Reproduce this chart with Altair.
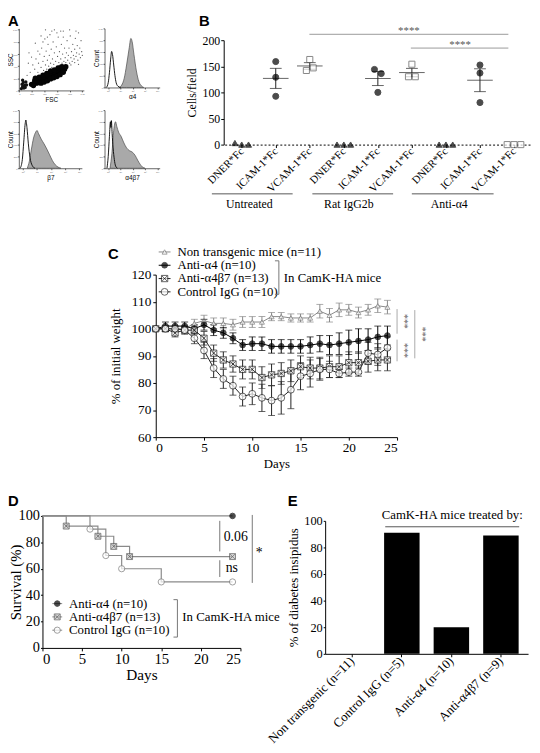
import json
import altair as alt
import pandas as pd

W, H = 532, 745
SERIF = "Liberation Serif"
SANS = "Liberation Sans"
CROSS_SQ = "M-1,-1H1V1H-1Z M-1,-1L1,1 M1,-1L-1,1"

# ---------------- data: panel A (flow cytometry) ----------------
core_fsc = [200, 240, 260, 280, 300, 320, 340, 360, 380, 400, 420, 440, 460, 480, 500, 520, 540, 560, 580, 600,
            620, 640, 660, 680, 700, 720, 740, 300, 350, 400, 450, 500, 550, 600, 650, 350, 400, 450, 500, 550,
            600, 650, 250, 700, 230, 260, 320, 380, 440, 500, 560, 620, 680]
core_ssc = [100, 110, 140, 120, 150, 130, 170, 150, 190, 170, 210, 190, 230, 210, 250, 230, 270, 250, 290, 270,
            310, 300, 330, 320, 360, 350, 390, 180, 200, 230, 260, 290, 310, 340, 370, 120, 140, 160, 190, 210,
            230, 260, 160, 300, 80, 200, 220, 250, 280, 320, 340, 370, 390]
debris_fsc = [40, 60, 80, 50, 90, 70, 100, 120, 60, 110]
debris_ssc = [30, 60, 40, 100, 80, 130, 50, 90, 170, 140]
sparse_fsc = [180, 220, 250, 270, 300, 310, 330, 350, 360, 380, 390, 400, 410, 420, 430, 440, 450, 460, 470, 480,
              490, 500, 510, 520, 530, 540, 550, 560, 570, 580, 590, 600, 610, 620, 630, 640, 650, 660, 670, 680,
              690, 700, 710, 720, 730, 740, 750, 760, 770, 780, 790, 800, 810, 820, 830, 840, 850, 860, 870, 880,
              890, 900, 910, 920, 930, 940, 950, 960, 970, 980, 990, 1000, 300, 260, 350, 420, 200, 150, 130, 160,
              600, 700, 520, 450, 380, 800, 900, 760, 820, 880, 940, 660, 560]
sparse_ssc = [300, 420, 350, 520, 300, 450, 600, 380, 700, 480, 330, 560, 850, 420, 650, 350, 500, 760, 400, 580,
              920, 450, 680, 380, 520, 800, 430, 620, 350, 480, 720, 400, 560, 880, 460, 640, 420, 520, 760, 450,
              600, 980, 480, 700, 540, 460, 620, 820, 500, 580, 700, 450, 900, 540, 640, 480, 760, 580, 520, 680,
              860, 560, 620, 740, 500, 950, 600, 700, 540, 820, 640, 580, 650, 780, 900, 1000, 550, 450, 250, 620,
              950, 880, 980, 880, 800, 1000, 980, 380, 420, 460, 430, 980, 1000]

a4_open_x = [-0.15, 0.0, 0.1, 0.2, 0.28, 0.35, 0.45, 0.55, 0.65, 0.8, 1.0]
a4_open_c = [0, 80, 250, 480, 610, 560, 380, 200, 80, 20, 0]
a4_fill_x = [0.9, 1.1, 1.3, 1.5, 1.7, 1.85, 1.95, 2.1, 2.3, 2.5, 2.7, 2.9]
a4_fill_c = [0, 40, 150, 380, 650, 830, 780, 560, 280, 100, 30, 0]
b7_open_x = [-0.2, -0.05, 0.05, 0.15, 0.2, 0.28, 0.38, 0.5, 0.65, 0.85]
b7_open_c = [0, 150, 450, 760, 830, 700, 420, 180, 50, 0]
b7_fill_x = [0.3, 0.45, 0.6, 0.75, 0.9, 1.0, 1.1, 1.3, 1.5, 1.7, 1.9, 2.1, 2.3, 2.5, 2.7]
b7_fill_c = [0, 120, 330, 520, 620, 650, 600, 500, 420, 330, 230, 130, 60, 20, 0]
ab_open_x = [-0.1, 0.0, 0.1, 0.18, 0.22, 0.26, 0.32, 0.4, 0.5, 0.6, 0.75]
ab_open_c = [0, 200, 550, 800, 700, 820, 600, 350, 150, 40, 0]
ab_fill_x = [0.15, 0.3, 0.45, 0.6, 0.7, 0.85, 1.05, 1.25, 1.5, 1.75, 1.95, 2.2, 2.4, 2.6, 2.8, 3.0]
ab_fill_c = [0, 250, 650, 800, 720, 620, 550, 450, 350, 300, 280, 220, 140, 70, 20, 0]

# ---------------- data: panel B ----------------
b_groups = ["Untreated", "Rat IgG2b", "Anti-\u03b14"]
b_ligands = ["DNER*Fc", "ICAM-1*Fc", "VCAM-1*Fc"]
b_vals = [[3, 0, 0], [159, 129, 92.5], [163, 142, 147],
          [0, 0, 0], [144, 136, 100], [154, 130, 130],
          [0, 0, 0], [152.5, 137, 80.5], [0, 0, 0]]
b_slot = [[-2, 0, 2], [0, 0, 0], [0, -1, 1],
          [-2, 0, 2], [-1, 1, 0], [0, -1, 1],
          [-2, 0, 2], [0, 0, 0], [-2, 0, 2]]

# ---------------- data: panel C ----------------
c_names = ["Non transgenic mice (n=11)", "Anti-\u03b14 (n=10)", "Anti-\u03b14\u03b27 (n=13)", "Control IgG (n=10)"]
c_days = list(range(25))
nt_mean = [100, 100, 100, 100, 102, 103, 102, 102, 101.5, 102.5, 102.5, 102.5, 104.5, 104.5, 104, 104, 104,
           106.5, 105, 107, 107, 106, 107, 108.5, 108]
nt_sem = [0.5, 1, 1, 1, 1.5, 2, 2, 2, 2, 2, 2, 2, 1.5, 1.5, 1.5, 1.5, 1.5, 2.5, 2.5, 2.5, 2, 2, 2, 2.5, 2.5]
a4_mean = [100, 101, 101, 101, 100, 101.5, 99.5, 98.5, 96.5, 94, 94.5, 94.5, 93.5, 93.5, 93.5, 93.5, 94, 94.5,
           94, 94.5, 95, 95.5, 96, 97, 97.5]
a4_sem = [0.5, 1.5, 1.5, 1.5, 1.5, 2, 2, 2, 2, 2, 2.5, 2.5, 2.5, 2.5, 2.5, 2.5, 3, 3, 3.5, 4, 4.5, 4.5, 4, 4, 3.5]
ab7_mean = [100, 100, 98.5, 99.5, 99.5, 96.5, 91, 88.5, 87, 85, 85, 82, 83, 83.5, 84.5, 86, 85.5, 85.5, 86, 86,
            87.5, 87.5, 88, 88.5, 88.5]
ab7_sem = [0.5, 1, 1.5, 1.5, 1.5, 2.5, 3, 3, 3, 3.5, 3.5, 4, 4, 4, 4, 4, 4, 4, 4, 4, 4, 4, 4, 4, 4]
igg_mean = [100, 100, 100, 99.5, 96.5, 92, 85.5, 81.5, 79, 75, 76, 74.5, 73.5, 74.5, 77.5, 82.5, 83.5, 85, 85,
            83.5, 84, 84, 91, 90.5, 93]
igg_sem = [0.5, 1, 1, 1, 2, 3, 3.5, 3.5, 3.5, 3.5, 4, 5, 5.5, 6, 7, 5, 5, 4, 3, 1.5, 1.5, 1.5, 4, 4, 4]

# ---------------- data: panel D ----------------
d_names = ["Anti-\u03b14 (n=10)", "Anti-\u03b14\u03b27 (n=13)", "Control IgG (n=10)"]
d_a4_days, d_a4_surv = [0, 24], [100, 100]
d_ab7_days, d_ab7_surv = [0, 3, 7, 9, 11, 24], [100, 92.3, 84.6, 76.9, 69.2, 69.2]
d_igg_days, d_igg_surv = [0, 6, 8, 10, 15, 24], [100, 90, 70, 60, 50, 50]

# ---------------- data: panel E ----------------
e_cats = ["Non transgenic (n=11)", "Control IgG (n=5)", "Anti-\u03b14 (n=10)", "Anti-\u03b14\u03b27 (n=9)"]
e_vals = [0, 91, 20, 89]


# ---------------- helpers ----------------
def sc(domain, rng, zero=False, **kw):
    return alt.Scale(domain=domain, range=rng, nice=False, zero=zero, **kw)


def left_axis(x0, **kw):
    return alt.Axis(orient="left", offset=-x0, grid=False, **kw)


def bottom_axis(y0, **kw):
    return alt.Axis(orient="bottom", offset=y0 - H, grid=False, **kw)


def txt(s, x, y, size=12, font=SERIF, weight="normal", align="center", baseline="middle", angle=0, color="black"):
    return alt.Chart(pd.DataFrame({"t": [s]})).mark_text(
        font=font, fontSize=size, fontWeight=weight, align=align, baseline=baseline, angle=angle, color=color
    ).encode(x=alt.value(x), y=alt.value(y), text="t:N")


def rule(x1, y1, x2, y2, color="#777", width=1.0):
    return alt.Chart(pd.DataFrame({"k": [0]})).mark_rule(color=color, strokeWidth=width).encode(
        x=alt.value(x1), y=alt.value(y1), x2=alt.value(x2), y2=alt.value(y2)
    )


layers = []

# ---------------- Panel A ----------------
A_AX = dict(labelFont=SANS, labelFontSize=2.2, titleFont=SANS, titleFontSize=6.5, tickSize=1.5,
            labelPadding=0.5, titlePadding=2, domainWidth=0.6, tickWidth=0.6, labelColor="#555")
A_YT = dict(titleBaseline="middle", titleAngle=270, titleX=-8)
K_EXPR = "datum.value >= 1000 ? '1,0K' : datum.label"
DEC_EXPR = json.dumps(["10\u2070", "10\u00b9", "10\u00b2", "10\u00b3", "10\u2074"], ensure_ascii=False) + "[datum.value]"

ax_x = alt.X("fsc:Q", scale=sc([0, 1024], [11, 77]),
             axis=bottom_axis(78, values=[0, 200, 400, 600, 800, 1000], labelExpr=K_EXPR, title="FSC", **A_AX))
ax_y = alt.Y("ssc:Q", scale=sc([0, 1024], [78, 15]),
             axis=left_axis(11, values=[0, 200, 400, 600, 800, 1000], labelExpr=K_EXPR, title="SSC",
                            **A_YT, **A_AX))
a1 = alt.layer(
    alt.Chart(pd.DataFrame({"fsc": sparse_fsc, "ssc": sparse_ssc})).mark_circle(size=1.6, color="#444", opacity=0.9)
    .encode(x=ax_x, y=ax_y),
    alt.Chart(pd.DataFrame({"fsc": debris_fsc, "ssc": debris_ssc})).mark_circle(size=12, color="#111", opacity=1)
    .encode(x=ax_x, y=ax_y),
    alt.Chart(pd.DataFrame({"fsc": core_fsc, "ssc": core_ssc})).mark_circle(size=30, color="#050505", opacity=1)
    .encode(x=ax_x, y=ax_y),
)
layers.append(a1)


def hist_panel(x0, x1, ytop, ybot, xtitle, open_x, open_c, fill_x, fill_c):
    xe = alt.X("x:Q", scale=sc([-0.3, 4.2], [x0, x1]),
               axis=bottom_axis(ybot, values=[0, 1, 2, 3, 4], labelExpr=DEC_EXPR, title=xtitle, **A_AX))
    ye = alt.Y("c:Q", scale=sc([0, 1000], [ybot, ytop], zero=True),
               axis=left_axis(x0, values=[0, 200, 400, 600, 800, 1000], labelExpr=K_EXPR, title="Count",
                              **A_YT, **A_AX))
    filled = alt.Chart(pd.DataFrame({"x": fill_x, "c": fill_c})).mark_area(
        interpolate="monotone", fill="#a9a9a9", stroke="#4a4a4a", strokeWidth=0.7).encode(x=xe, y=ye)
    opened = alt.Chart(pd.DataFrame({"x": open_x, "c": open_c})).mark_line(
        interpolate="monotone", color="black", strokeWidth=0.9).encode(x=xe, y=ye)
    return alt.layer(filled, opened)


layers.append(hist_panel(98, 154, 15, 75, "\u03b14", a4_open_x, a4_open_c, a4_fill_x, a4_fill_c))
layers.append(hist_panel(11, 75, 98, 157, "\u03b27", b7_open_x, b7_open_c, b7_fill_x, b7_fill_c))
layers.append(hist_panel(98, 154, 98, 157, "\u03b14\u03b27", ab_open_x, ab_open_c, ab_fill_x, ab_fill_c))

# ---------------- Panel B ----------------
rows = []
for cat in range(9):
    for rep in range(3):
        rows.append({"cat": cat, "lig": b_ligands[cat % 3], "grp": b_groups[cat // 3],
                     "v": b_vals[cat][rep], "slot": b_slot[cat][rep]})
dfB = pd.DataFrame(rows)
LIG_EXPR = json.dumps(b_ligands) + "[datum.value % 3]"
b_xscale = sc([-0.5, 8.5], [220, 531])
b_xaxis = bottom_axis(133, values=list(range(9)), labelExpr=LIG_EXPR, labelAngle=-45, labelAlign="right",
                      labelBaseline="middle", labelFontSize=11, tickSize=3, labelPadding=2,
                      domainDash=[2, 2], title=None)
b_yscale = sc([0, 200], [133, 27], zero=True)
b_yaxis = left_axis(219, values=[0, 50, 100, 150, 200], title="Cells/field", labelFontSize=12,
                    titleFontSize=12, tickSize=3, labelPadding=1, titlePadding=4)
baseB = alt.Chart(dfB)
b_pts = baseB.transform_calculate(xp="datum.cat + datum.slot * 0.1").mark_point(
    filled=True, size=38, strokeWidth=1).encode(
    x=alt.X("xp:Q", scale=b_xscale, axis=b_xaxis),
    y=alt.Y("v:Q", scale=b_yscale, axis=b_yaxis),
    shape=alt.Shape("lig:N", scale=alt.Scale(domain=b_ligands, range=["triangle-up", "circle", "square"]), legend=None),
    fill=alt.Fill("lig:N", scale=alt.Scale(domain=b_ligands, range=["black", "black", "white"]), legend=None),
    stroke=alt.Stroke("lig:N", scale=alt.Scale(domain=b_ligands, range=["black", "black", "#555"]), legend=None),
)
aggB = baseB.transform_aggregate(m="mean(v)", se="stderr(v)", groupby=["cat"]).transform_filter(
    "datum.m > 5").transform_calculate(lo="datum.m - datum.se", hi="datum.m + datum.se")
bx_cat = alt.X("cat:Q", scale=b_xscale, axis=b_xaxis)
b_rule = aggB.mark_rule(color="#222", strokeWidth=1).encode(
    x=bx_cat, y=alt.Y("lo:Q", scale=b_yscale, axis=b_yaxis), y2="hi:Q")
b_mean = aggB.mark_tick(orient="horizontal", size=26, thickness=1, color="#222").encode(
    x=bx_cat, y=alt.Y("m:Q", scale=b_yscale, axis=b_yaxis))
b_lo = aggB.mark_tick(orient="horizontal", size=12, thickness=1, color="#222").encode(
    x=bx_cat, y=alt.Y("lo:Q", scale=b_yscale, axis=b_yaxis))
b_hi = aggB.mark_tick(orient="horizontal", size=12, thickness=1, color="#222").encode(
    x=bx_cat, y=alt.Y("hi:Q", scale=b_yscale, axis=b_yaxis))
layers.append(alt.layer(b_rule, b_mean, b_lo, b_hi, b_pts))

# ---------------- Panel C ----------------
c_means = [nt_mean, a4_mean, ab7_mean, igg_mean]
c_sems = [nt_sem, a4_sem, ab7_sem, igg_sem]
rowsC = []
for name, ms, ss in zip(c_names, c_means, c_sems):
    for d, m, s in zip(c_days, ms, ss):
        rowsC.append({"series": name, "day": d, "m": m, "lo": m - s, "hi": m + s})
dfC = pd.DataFrame(rowsC)
c_x = alt.X("day:Q", scale=sc([0, 25], [150, 395]),
            axis=bottom_axis(430, values=[0, 5, 10, 15, 20, 25], title="Days", labelFontSize=13.5,
                             titleFontSize=13, tickSize=3, labelPadding=1, titlePadding=3))
c_yscale = sc([60, 120], [430, 265])
c_yaxis = left_axis(150, values=[60, 70, 80, 90, 100, 110, 120], title="% of initial weight",
                    labelFontSize=13.5, titleFontSize=13, tickSize=3, labelPadding=2, titlePadding=9)
c_color = alt.Color("series:N", scale=alt.Scale(domain=c_names, range=["#888", "black", "#222", "#222"]), legend=None)
c_shape = alt.Shape("series:N", scale=alt.Scale(domain=c_names, range=["triangle-up", "circle", CROSS_SQ, "circle"]),
                    legend=None)
c_fill = alt.Fill("series:N", scale=alt.Scale(domain=c_names, range=["white", "black", "white", "white"]), legend=None)
c_stroke = alt.Stroke("series:N", scale=alt.Scale(domain=c_names, range=["#777", "black", "#222", "#222"]),
                      legend=None)
c_size = alt.Size("series:N", scale=alt.Scale(domain=c_names, range=[26, 48, 58, 58]), legend=None)
baseC = alt.Chart(dfC)
c_err = baseC.mark_rule(strokeWidth=1).encode(x=c_x, y=alt.Y("lo:Q", scale=c_yscale, axis=c_yaxis), y2="hi:Q",
                                               color=c_color)
c_caplo = baseC.mark_tick(orient="horizontal", size=7, thickness=1).encode(
    x=c_x, y=alt.Y("lo:Q", scale=c_yscale, axis=c_yaxis), color=c_color)
c_caphi = baseC.mark_tick(orient="horizontal", size=7, thickness=1).encode(
    x=c_x, y=alt.Y("hi:Q", scale=c_yscale, axis=c_yaxis), color=c_color)
c_line = baseC.mark_line(strokeWidth=1).encode(x=c_x, y=alt.Y("m:Q", scale=c_yscale, axis=c_yaxis), color=c_color)
c_pts = baseC.mark_point(filled=True, strokeWidth=1).encode(
    x=c_x, y=alt.Y("m:Q", scale=c_yscale, axis=c_yaxis), shape=c_shape, fill=c_fill, stroke=c_stroke, size=c_size)
layers.append(alt.layer(c_err, c_caplo, c_caphi, c_line, c_pts))

# legend for C
dfCL = pd.DataFrame({"series": c_names})
cl_y = alt.Y("series:N", scale=alt.Scale(type="point", domain=c_names, range=[242, 282.5], padding=0), axis=None)
layers.append(alt.layer(
    alt.Chart(dfCL).mark_rule(strokeWidth=1).encode(x=alt.value(153), x2=alt.value(165), y=cl_y, color=c_color),
    alt.Chart(dfCL).mark_point(filled=True, strokeWidth=1).encode(
        x=alt.value(159), y=cl_y, shape=c_shape, fill=c_fill, stroke=c_stroke, size=c_size),
    alt.Chart(dfCL).mark_text(font=SERIF, fontSize=13, align="left", baseline="middle", color="black").encode(
        x=alt.value(172), y=cl_y, text="series:N"),
))

# ---------------- Panel D ----------------
rowsD = []
for name, ds, ss in zip(d_names, [d_a4_days, d_ab7_days, d_igg_days], [d_a4_surv, d_ab7_surv, d_igg_surv]):
    for d, s in zip(ds, ss):
        rowsD.append({"series": name, "day": d, "s": s})
dfD = pd.DataFrame(rowsD)
d_x = alt.X("day:Q", scale=sc([0, 25], [35, 236]),
            axis=bottom_axis(644, values=[0, 5, 10, 15, 20, 25], title="Days", labelFontSize=15,
                             titleFontSize=15.5, tickSize=3, labelPadding=1, titlePadding=1))
d_y = alt.Y("s:Q", scale=sc([0, 100], [644, 510], zero=True),
            axis=left_axis(35, values=[0, 20, 40, 60, 80, 100], title="Survival (%)", labelFontSize=14.5,
                           titleFontSize=15, tickSize=2, labelPadding=1, titleX=-27, titleBaseline="middle",
                           titleAngle=270))
d_shape = alt.Shape("series:N", scale=alt.Scale(domain=d_names, range=["circle", CROSS_SQ, "circle"]), legend=None)
d_fill = alt.Fill("series:N", scale=alt.Scale(domain=d_names, range=["black", "#c8c8c8", "white"]), legend=None)
d_stroke = alt.Stroke("series:N", scale=alt.Scale(domain=d_names, range=["black", "#555", "#777"]), legend=None)
d_size = alt.Size("series:N", scale=alt.Scale(domain=d_names, range=[32, 40, 42]), legend=None)
baseD = alt.Chart(dfD)
d_line = baseD.mark_line(interpolate="step-after", color="#8a8a8a", strokeWidth=1.2).encode(
    x=d_x, y=d_y, detail="series:N")
d_pts = baseD.transform_filter("datum.day > 0").mark_point(filled=True, strokeWidth=1).encode(
    x=d_x, y=d_y, shape=d_shape, fill=d_fill, stroke=d_stroke, size=d_size)
layers.append(alt.layer(d_line, d_pts))

dfDL = pd.DataFrame({"series": d_names})
dl_y = alt.Y("series:N", scale=alt.Scale(type="point", domain=d_names, range=[599, 626], padding=0), axis=None)
layers.append(alt.layer(
    alt.Chart(dfDL).mark_rule(strokeWidth=1, color="#8a8a8a").encode(x=alt.value(45), x2=alt.value(55), y=dl_y),
    alt.Chart(dfDL).mark_point(filled=True, strokeWidth=1).encode(
        x=alt.value(50), y=dl_y, shape=d_shape, fill=d_fill, stroke=d_stroke, size=d_size),
    alt.Chart(dfDL).mark_text(font=SERIF, fontSize=13, align="left", baseline="middle", color="black").encode(
        x=alt.value(62), y=dl_y, text="series:N"),
))

# ---------------- Panel E ----------------
dfE = pd.DataFrame({"g": e_cats, "v": e_vals})
e_bar = alt.Chart(dfE).mark_bar(color="black").encode(
    x=alt.X("g:N", sort=e_cats,
            scale=alt.Scale(domain=e_cats, range=[322, 528], paddingInner=0.284, paddingOuter=0.19),
            axis=bottom_axis(650, labelAngle=-45, labelAlign="right", labelBaseline="middle", labelFontSize=13,
                             tickSize=3, labelPadding=2, title=None)),
    y=alt.Y("v:Q", scale=sc([0, 100], [650, 515], zero=True),
            axis=left_axis(322, values=[0, 20, 40, 60, 80, 100], title="% of diabetes insipidus",
                           labelFontSize=12.5, titleFontSize=13, tickSize=2, labelPadding=1, titlePadding=3)),
)
layers.append(e_bar)

# ---------------- annotations ----------------
layers += [
    txt("A", 0, 1, size=15, font=SANS, weight="bold", align="left", baseline="top"),
    txt("B", 194, 1, size=15, font=SANS, weight="bold", align="left", baseline="top"),
    txt("C", 107, 244, size=15, font=SANS, weight="bold"),
    txt("D", 0, 495, size=15, font=SANS, weight="bold", align="left"),
    txt("E", 289, 495, size=15, font=SANS, weight="bold"),
]
layers += [
    rule(306, 21, 508, 21, "#999"), txt("****", 407, 18, size=11, color="#555"),
    rule(409, 35, 508, 35, "#999"), txt("****", 459, 32, size=11, color="#555"),
    rule(207, 183, 289, 183, "#555"), rule(309, 183, 391, 183, "#555"), rule(410, 183, 493, 183, "#555"),
    txt(b_groups[0], 245, 193, size=12), txt(b_groups[1], 346, 193, size=12), txt(b_groups[2], 448, 193, size=12),
]
layers += [
    rule(275, 251, 275, 285, "#777"), rule(271, 251, 275, 251, "#777"), rule(271, 285, 275, 285, "#777"),
    txt("In CamK-HA mice", 280, 269, size=13, align="left"),
    rule(395, 300, 395, 325, "#aaa"), rule(395, 331, 395, 353, "#aaa"), rule(413, 301, 413, 350, "#aaa"),
    txt("***", 402, 312.5, size=10, angle=90, color="#555"),
    txt("***", 402, 342, size=10, angle=90, color="#555"),
    txt("***", 420, 325.5, size=10, angle=90, color="#555"),
]
layers += [
    rule(172, 595, 172, 633, "#777"), rule(168, 595, 172, 595, "#777"), rule(168, 633, 172, 633, "#777"),
    txt("In CamK-HA mice", 177, 613, size=13, align="left"),
    rule(215, 515, 215, 546, "#777"), txt("0.06", 219, 531, size=14, align="left"),
    rule(215, 555, 215, 572, "#777"), txt("ns", 221, 563, size=14, align="left"),
    rule(248, 509, 248, 578, "#777"), txt("*", 255, 548, size=14),
]
layers += [
    txt("CamK-HA mice treated by:", 451, 509, size=13),
    rule(383, 521, 519, 521, "#555"),
]

chart = alt.layer(*layers).resolve_scale(
    x="independent", y="independent", shape="independent", fill="independent",
    stroke="independent", size="independent", color="independent",
).properties(
    width=W, height=H, padding=0, autosize=alt.AutoSizeParams(type="none")
).configure_view(strokeWidth=0).configure_axis(
    grid=False, labelFont=SERIF, titleFont=SERIF, titleFontWeight="normal", labelColor="black",
    titleColor="black", domainColor="black", tickColor="black", domainWidth=1, tickWidth=1,
    labelOverlap=False,
)

chart.save("out.html", embed_options={"renderer": "svg", "actions": False})
